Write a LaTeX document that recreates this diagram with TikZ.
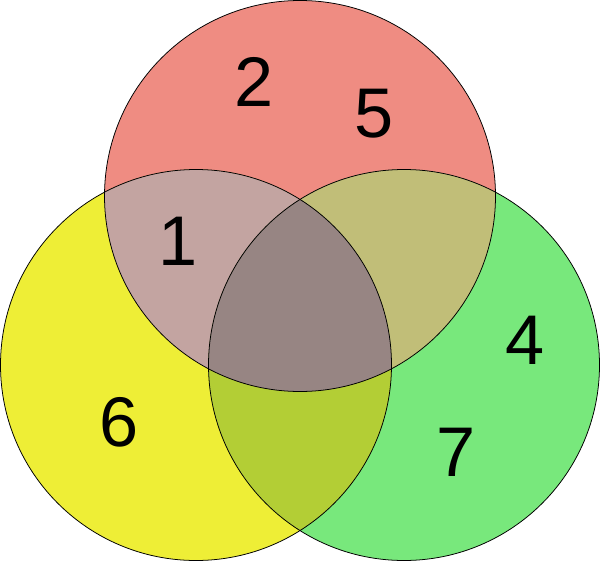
\documentclass[tikz,border=0pt]{standalone}
\usepackage{fontspec}
\setmainfont{Liberation Sans}
\usepackage{xcolor}
\usepackage{tikz}
\definecolor{setr}{HTML}{EF8C82}
\definecolor{sety}{HTML}{EEEE36}
\definecolor{setg}{HTML}{78E87C}
\definecolor{setry}{HTML}{C3A4A1}
\definecolor{setrg}{HTML}{C1BE78}
\definecolor{setyg}{HTML}{B3CE35}
\definecolor{setryg}{HTML}{978583}
\tikzset{
  ring/.style={draw=black, line width=1.1pt},
  num/.style={inner sep=0pt, font=\fontsize{100}{100}\selectfont},
}

\begin{document}
\begin{tikzpicture}[x=0.05cm, y=-0.05cm]
  \useasboundingbox (0,0) rectangle (600,561);
  \def\r{195.5}
  \coordinate (R) at (300,196);
  \coordinate (Y) at (196,365);
  \coordinate (G) at (404,365);
  % single sets
  \fill[setr] (R) circle (\r);
  \fill[sety] (Y) circle (\r);
  \fill[setg] (G) circle (\r);
  % pairs
  \begin{scope}
    \clip (R) circle (\r);
    \fill[setry] (Y) circle (\r);
    \fill[setrg] (G) circle (\r);
  \end{scope}
  \begin{scope}
    \clip (Y) circle (\r);
    \fill[setyg] (G) circle (\r);
  \end{scope}
  % all three
  \begin{scope}
    \clip (R) circle (\r);
    \clip (Y) circle (\r);
    \fill[setryg] (G) circle (\r);
  \end{scope}
  \draw[ring] (R) circle (\r);
  \draw[ring] (Y) circle (\r);
  \draw[ring] (G) circle (\r);
  \node[num] (n2) at (254,82) {2};
  \node[num] (n5) at (374,114) {5};
  \node[num] (n1) at (178,241) {1};
  \node[num] (n6) at (119,422) {6};
  \node[num] (n4) at (525,340) {4};
  \node[num] (n7) at (456,452) {7};
\end{tikzpicture}
\end{document}
